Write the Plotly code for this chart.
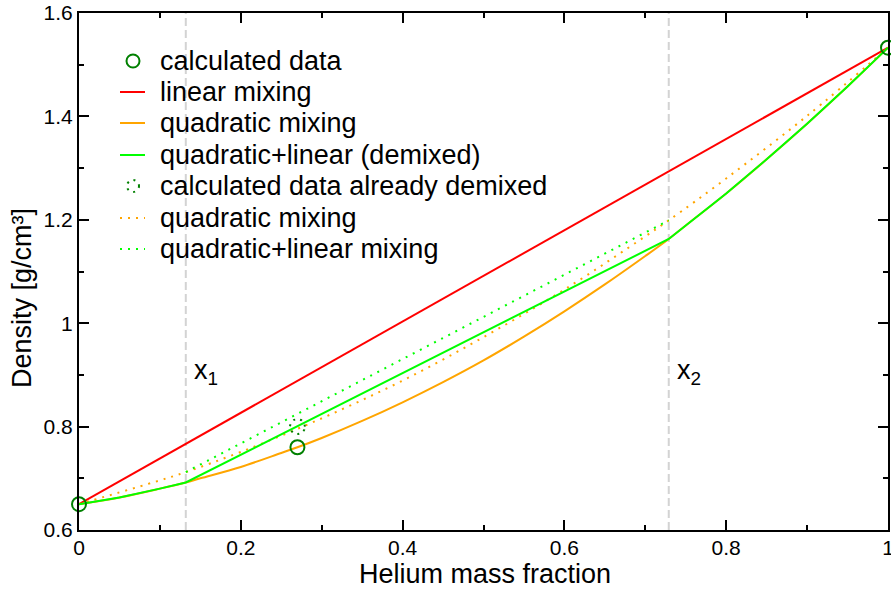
import numpy as np
import plotly.graph_objects as go

# ---- data ----
calc_x = [0.0, 0.27, 1.0]
calc_y = [0.650, 0.760, 1.533]

linear_x = [0.0, 1.0]
linear_y = [0.650, 1.533]

quad_x = [0.0, 0.05, 0.1, 0.132, 0.15, 0.2, 0.25, 0.27, 0.3, 0.35, 0.4, 0.45, 0.5,
          0.55, 0.6, 0.65, 0.7, 0.729, 0.75, 0.8, 0.85, 0.9, 0.95, 1.0]
quad_y = [0.650, 0.663, 0.680, 0.692, 0.700, 0.722, 0.749, 0.760, 0.778, 0.811, 0.847,
          0.886, 0.928, 0.974, 1.023, 1.075, 1.130, 1.163, 1.189, 1.251, 1.317, 1.386,
          1.458, 1.533]

demix_x = [0.0, 0.05, 0.1, 0.132, 0.729, 0.75, 0.8, 0.85, 0.9, 0.95, 1.0]
demix_y = [0.650, 0.663, 0.680, 0.692, 1.163, 1.189, 1.251, 1.317, 1.386, 1.458, 1.533]

demixed_pt_x = [0.27]
demixed_pt_y = [0.800]

quad2_x = [0.0, 0.1, 0.132, 0.2, 0.3, 0.4, 0.5, 0.6, 0.7, 0.729, 0.8, 0.9, 1.0]
quad2_y = [0.650, 0.696, 0.712, 0.751, 0.816, 0.889, 0.973, 1.065, 1.168, 1.199,
           1.280, 1.401, 1.533]

quadlin2_x = [0.132, 0.729]
quadlin2_y = [0.712, 1.199]

boundaries = [0.132, 0.729]
boundary_labels = ["x<sub>1</sub>", "x<sub>2</sub>"]

x_ticks = [0, 0.2, 0.4, 0.6, 0.8, 1.0]
x_tick_text = ["0", "0.2", "0.4", "0.6", "0.8", "1"]
y_ticks = [0.6, 0.8, 1.0, 1.2, 1.4, 1.6]
y_tick_text = ["0.6", "0.8", "1", "1.2", "1.4", "1.6"]

legend_labels = ["calculated data", "linear mixing", "quadratic mixing",
                 "quadratic+linear (demixed)", "calculated data already demixed",
                 "quadratic mixing", "quadratic+linear mixing"]

FONT = "Liberation Sans"
RED = "#ff0000"
ORANGE = "#ffa500"
GREEN = "#00ff00"
DKGREEN = "#008000"
DOT = "2px,6px"

W, H = 891, 590
ML, MR, MT, MB = 79, 3, 13, 60
XR = [0, 1]
YR = [0.6, 1.6]
pw = W - ML - MR
ph = H - MT - MB


def px2paper_x(px):
    return (px - ML) / pw


def px2paper_y(py):
    return (H - MB - py) / ph


fig = go.Figure()

fig.add_trace(go.Scatter(x=linear_x, y=linear_y, mode="lines",
                         line=dict(color=RED, width=2)))
fig.add_trace(go.Scatter(x=quad2_x, y=quad2_y, mode="lines",
                         line=dict(color=ORANGE, width=2, dash=DOT, shape="spline")))
fig.add_trace(go.Scatter(x=quadlin2_x, y=quadlin2_y, mode="lines",
                         line=dict(color=GREEN, width=2, dash=DOT)))
fig.add_trace(go.Scatter(x=quad_x, y=quad_y, mode="lines",
                         line=dict(color=ORANGE, width=2, shape="spline")))
fig.add_trace(go.Scatter(x=demix_x, y=demix_y, mode="lines",
                         line=dict(color=GREEN, width=2)))

# dotted circle around the already-demixed point (radius in pixels)
r_px = 7.5
t = np.linspace(0, 2 * np.pi, 60)
cx = demixed_pt_x[0] + r_px * np.cos(t) * (XR[1] - XR[0]) / pw
cy = demixed_pt_y[0] + r_px * np.sin(t) * (YR[1] - YR[0]) / ph
fig.add_trace(go.Scatter(x=cx, y=cy, mode="lines", hoverinfo="skip",
                         line=dict(color=DKGREEN, width=2, dash="2px,5px")))

fig.add_trace(go.Scatter(x=calc_x, y=calc_y, mode="markers",
                         marker=dict(symbol="circle-open", size=14, color=DKGREEN,
                                     line=dict(width=2, color=DKGREEN)),
                         cliponaxis=False))

# phase boundaries
for b, lab in zip(boundaries, boundary_labels):
    fig.add_shape(type="line", xref="x", yref="paper", x0=b, x1=b, y0=0, y1=1,
                  line=dict(color="#d3d3d3", width=2, dash="8px,4px"), layer="below")
    fig.add_annotation(x=b, y=0.905, xref="x", yref="y", text=lab, showarrow=False,
                       xanchor="left", xshift=6, font=dict(size=27, color="black", family=FONT))

# ---- hand-built legend (paper coordinates) ----
leg_y = [61, 92, 123, 155, 186, 218, 249]
gx0, gx1, gxc, tx = 120, 145, 133, 158
glyphs = ["circle", ("line", RED, "solid"), ("line", ORANGE, "solid"),
          ("line", GREEN, "solid"), "dotcircle", ("line", ORANGE, DOT), ("line", GREEN, DOT)]
for lab, py, g in zip(legend_labels, leg_y, glyphs):
    yp = px2paper_y(py)
    if g == "circle":
        fig.add_shape(type="circle", xref="paper", yref="paper",
                      xsizemode="pixel", ysizemode="pixel",
                      xanchor=px2paper_x(gxc), yanchor=yp, x0=-6.5, x1=6.5, y0=-6.5, y1=6.5,
                      line=dict(color=DKGREEN, width=2))
    elif g == "dotcircle":
        fig.add_shape(type="circle", xref="paper", yref="paper",
                      xsizemode="pixel", ysizemode="pixel",
                      xanchor=px2paper_x(gxc), yanchor=yp, x0=-6, x1=6, y0=-6, y1=6,
                      line=dict(color=DKGREEN, width=2, dash="2px,5px"))
    else:
        fig.add_shape(type="line", xref="paper", yref="paper",
                      x0=px2paper_x(gx0), x1=px2paper_x(gx1), y0=yp, y1=yp,
                      line=dict(color=g[1], width=2, dash=g[2]))
    fig.add_annotation(x=px2paper_x(tx), y=yp, xref="paper", yref="paper", text=lab,
                       showarrow=False, xanchor="left", yanchor="middle",
                       font=dict(size=27, color="black", family=FONT))

# axis titles
fig.add_annotation(x=px2paper_x(485), y=px2paper_y(574), xref="paper", yref="paper",
                   text="Helium mass fraction", showarrow=False, xanchor="center",
                   yanchor="middle", font=dict(size=27, color="black", family=FONT))
fig.add_annotation(x=px2paper_x(22), y=px2paper_y(298), xref="paper", yref="paper",
                   text="Density [g/cm³]", showarrow=False, textangle=-90,
                   xanchor="center", yanchor="middle",
                   font=dict(size=27, color="black", family=FONT))

axis_common = dict(showgrid=False, zeroline=False, showline=True, linecolor="black",
                   linewidth=2, mirror="ticks", ticks="inside", ticklen=10, tickwidth=1.5,
                   tickcolor="black", ticklabeloverflow="allow", automargin=False,
                   tickfont=dict(size=21, color="black", family=FONT))

fig.update_layout(
    width=W, height=H,
    margin=dict(l=ML, r=MR, t=MT, b=MB, autoexpand=False),
    paper_bgcolor="white", plot_bgcolor="white",
    font=dict(family=FONT, color="black"),
    xaxis=dict(range=XR, tickvals=x_ticks, ticktext=x_tick_text, ticklabelstandoff=-2,
               minor=dict(dtick=0.1, ticks="inside", ticklen=5, tickcolor="black"),
               **axis_common),
    yaxis=dict(range=YR, tickvals=y_ticks, ticktext=y_tick_text,
               minor=dict(dtick=0.1, ticks="inside", ticklen=5, tickcolor="black"),
               **axis_common),
    showlegend=False,
)

fig.write_html("out.html")
